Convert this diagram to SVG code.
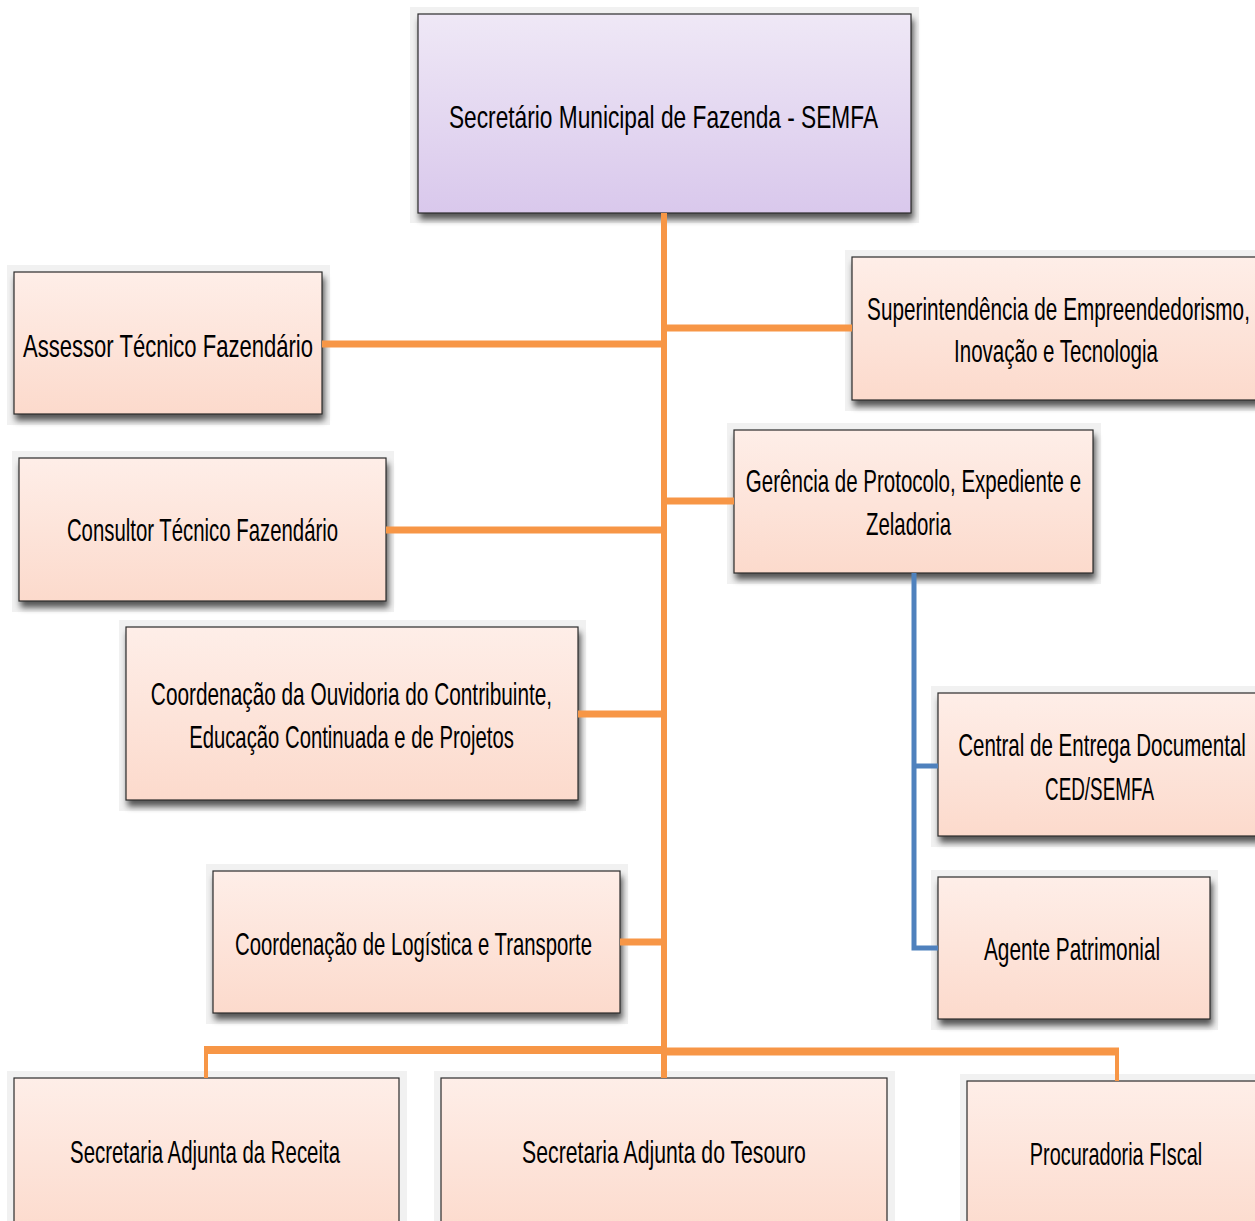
<svg xmlns="http://www.w3.org/2000/svg" width="1255" height="1221" viewBox="0 0 1255 1221">
<style>
.t{font-family:"Liberation Sans",Arial,sans-serif;font-size:32px;fill:#000;text-anchor:middle}
.box{fill:url(#peach);stroke:#2b2b2b;stroke-width:1.2}
.halo{fill:#f1f1f1}
.or{stroke:#F79646;fill:none;stroke-linecap:butt}
.bl{stroke:#4F81BD;fill:none;stroke-width:5}
</style>
<defs>
<linearGradient id="peach" x1="0" y1="0" x2="0" y2="1">
<stop offset="0" stop-color="#FEEEE8"/>
<stop offset="1" stop-color="#FCDACC"/>
</linearGradient>
<linearGradient id="lav" x1="0" y1="0" x2="0" y2="1">
<stop offset="0" stop-color="#EFE8F6"/>
<stop offset="1" stop-color="#D9C8EC"/>
</linearGradient>
<filter id="sh" x="-10%" y="-10%" width="125%" height="130%">
<feGaussianBlur in="SourceAlpha" stdDeviation="3"/>
<feOffset dx="2" dy="6" result="b"/>
<feComponentTransfer><feFuncA type="linear" slope="0.65"/></feComponentTransfer>
<feMerge><feMergeNode/><feMergeNode in="SourceGraphic"/></feMerge>
</filter>
</defs>
<rect width="1255" height="1221" fill="#fff"/>

<g id="n-secretario">
<rect x="410" y="7" width="509" height="216" class="halo"/>
<rect x="418" y="14" width="493" height="199" fill="url(#lav)" stroke="#2b2b2b" stroke-width="1.2" filter="url(#sh)"/>
<text class="t" transform="translate(663.5 0) scale(0.7 1)" x="0" y="128" font-size="38" textLength="613" lengthAdjust="spacingAndGlyphs">Secretário Municipal de Fazenda -  SEMFA</text>
</g>

<g id="n-assessor">
<rect x="7" y="265" width="323" height="160" class="halo"/>
<rect x="14" y="272" width="308" height="142" class="box" filter="url(#sh)"/>
<text class="t" transform="translate(168 0) scale(0.7 1)" x="0" y="357" font-size="36" textLength="414" lengthAdjust="spacingAndGlyphs">Assessor Técnico Fazendário</text>
</g>

<g id="n-superintendencia">
<rect x="845" y="250" width="410" height="161" class="halo"/>
<rect x="852" y="257" width="410" height="143" class="box" filter="url(#sh)"/>
<text class="t" transform="translate(1058.5 0) scale(0.66 1)" x="0" y="320" textLength="580" lengthAdjust="spacingAndGlyphs">Superintendência de Empreendedorismo,</text>
<text class="t" transform="translate(1056 0) scale(0.66 1)" x="0" y="362" textLength="309" lengthAdjust="spacingAndGlyphs">Inovação e Tecnologia</text>
</g>

<g id="n-gerencia">
<rect x="727" y="423" width="374" height="161" class="halo"/>
<rect x="734" y="430" width="359" height="143" class="box" filter="url(#sh)"/>
<text class="t" transform="translate(913.5 0) scale(0.66 1)" x="0" y="492" textLength="508" lengthAdjust="spacingAndGlyphs">Gerência de Protocolo, Expediente e</text>
<text class="t" transform="translate(908.5 0) scale(0.66 1)" x="0" y="535" textLength="129" lengthAdjust="spacingAndGlyphs">Zeladoria</text>
</g>

<g id="n-consultor">
<rect x="12" y="451" width="382" height="161" class="halo"/>
<rect x="19" y="458" width="367" height="143" class="box" filter="url(#sh)"/>
<text class="t" transform="translate(202.5 0) scale(0.66 1)" x="0" y="541" textLength="411" lengthAdjust="spacingAndGlyphs">Consultor Técnico Fazendário</text>
</g>

<g id="n-ouvidoria">
<rect x="119" y="620" width="467" height="191" class="halo"/>
<rect x="126" y="627" width="452" height="173" class="box" filter="url(#sh)"/>
<text class="t" transform="translate(351.5 0) scale(0.66 1)" x="0" y="705" textLength="608" lengthAdjust="spacingAndGlyphs">Coordenação da Ouvidoria do Contribuinte,</text>
<text class="t" transform="translate(351.5 0) scale(0.66 1)" x="0" y="748" textLength="492" lengthAdjust="spacingAndGlyphs">Educação Continuada e de Projetos</text>
</g>

<g id="n-logistica">
<rect x="206" y="864" width="422" height="160" class="halo"/>
<rect x="213" y="871" width="407" height="142" class="box" filter="url(#sh)"/>
<text class="t" transform="translate(413.5 0) scale(0.66 1)" x="0" y="955" textLength="541" lengthAdjust="spacingAndGlyphs">Coordenação de Logística e Transporte</text>
</g>

<g id="n-central">
<rect x="931" y="686" width="324" height="161" class="halo"/>
<rect x="938" y="693" width="324" height="143" class="box" filter="url(#sh)"/>
<text class="t" transform="translate(1102 0) scale(0.66 1)" x="0" y="756" textLength="436" lengthAdjust="spacingAndGlyphs">Central de Entrega Documental</text>
<text class="t" transform="translate(1099.5 0) scale(0.66 1)" x="0" y="800" textLength="165" lengthAdjust="spacingAndGlyphs">CED/SEMFA</text>
</g>

<g id="n-agente">
<rect x="931" y="870" width="287" height="160" class="halo"/>
<rect x="938" y="877" width="272" height="142" class="box" filter="url(#sh)"/>
<text class="t" transform="translate(1072 0) scale(0.66 1)" x="0" y="960" textLength="267" lengthAdjust="spacingAndGlyphs">Agente Patrimonial</text>
</g>

<g id="n-receita">
<rect x="7" y="1071" width="400" height="150" class="halo"/>
<rect x="14" y="1078" width="385" height="160" class="box"/>
<text class="t" transform="translate(205 0) scale(0.66 1)" x="0" y="1163" textLength="409" lengthAdjust="spacingAndGlyphs">Secretaria Adjunta da Receita</text>
</g>

<g id="n-tesouro">
<rect x="434" y="1071" width="461" height="150" class="halo"/>
<rect x="441" y="1078" width="446" height="160" class="box"/>
<text class="t" transform="translate(664 0) scale(0.66 1)" x="0" y="1163" textLength="430" lengthAdjust="spacingAndGlyphs">Secretaria Adjunta  do Tesouro</text>
</g>

<g id="n-procuradoria">
<rect x="960" y="1074" width="295" height="147" class="halo"/>
<rect x="967" y="1081" width="300" height="160" class="box"/>
<text class="t" transform="translate(1116 0) scale(0.66 1)" x="0" y="1165" textLength="261" lengthAdjust="spacingAndGlyphs">Procuradoria FIscal</text>
</g>

<g id="connectors">
<path class="or" stroke-width="6" d="M664 213 V1078"/>
<path class="or" stroke-width="7" d="M322 344 H664"/>
<path class="or" stroke-width="7" d="M664 328 H852"/>
<path class="or" stroke-width="7" d="M664 501 H734"/>
<path class="or" stroke-width="7" d="M386 530 H664"/>
<path class="or" stroke-width="7" d="M578 714 H664"/>
<path class="or" stroke-width="7" d="M620 942 H664"/>
<path class="or" stroke-width="8" d="M204 1050 H664"/>
<path class="or" stroke-width="8" d="M664 1051.5 H1119"/>
<path class="or" stroke-width="4" d="M206 1047 V1078"/>
<path class="or" stroke-width="4" d="M1117 1048 V1081"/>
<path class="bl" d="M914 573 V948 H938 M914 766 H938"/>
</g>
</svg>
